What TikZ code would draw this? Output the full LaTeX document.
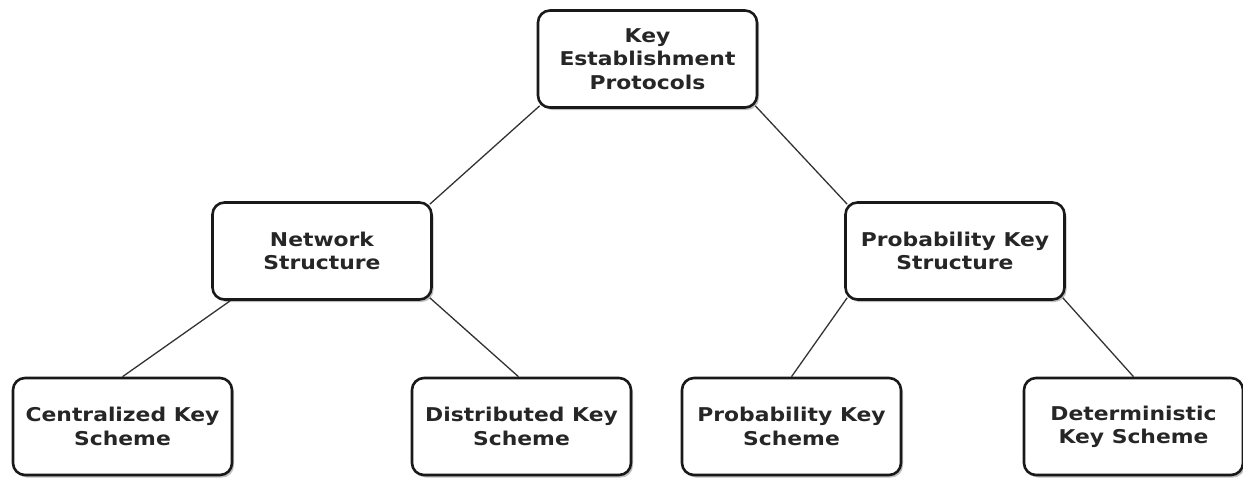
\documentclass[tikz,border=0pt]{standalone}
\usepackage{fontspec}
\setmainfont{DejaVu Sans}[FakeStretch=1.15]
\usetikzlibrary{shadows}
\definecolor{txt}{HTML}{262626}
\begin{document}
\begin{tikzpicture}[x=1pt,y=-1pt,
  box/.style={draw=black!90, line width=2.6pt, rounded corners=12pt, fill=white,
    minimum width=219pt, minimum height=97pt, inner sep=0pt, align=center,
    text=txt, font=\bfseries\fontsize{19}{23.3}\selectfont,
    drop shadow={shadow xshift=2pt, shadow yshift=-2.5pt, opacity=0.25, fill=black}},
  link/.style={line width=1.3pt, draw=black!80}]
\useasboundingbox (0,0) rectangle (1243,477);
\node[box] (top)  at (647.5,59)  {Key\\Establishment\\Protocols};
\node[box] (net)  at (322,251)   {Network\\Structure};
\node[box] (pks)  at (955,251)   {Probability Key\\Structure};
\node[box] (cen)  at (122.5,426.5) {Centralized Key\\Scheme};
\node[box] (dis)  at (521.5,426.5) {Distributed Key\\Scheme};
\node[box] (pksc) at (791.5,426.5) {Probability Key\\Scheme};
\node[box] (det)  at (1133.5,426.5) {Deterministic\\Key Scheme};
\draw[link] ([xshift=3pt,yshift=3pt]top.south west) -- ([xshift=-3pt,yshift=-3pt]net.north east);
\draw[link] ([xshift=-3pt,yshift=3pt]top.south east) -- ([xshift=3pt,yshift=-3pt]pks.north west);
\draw[link] ([xshift=19pt]net.south west) -- (cen.north);
\draw[link] ([xshift=-3pt,yshift=3pt]net.south east) -- ([xshift=-3pt]dis.north);
\draw[link] ([xshift=3pt,yshift=3pt]pks.south west) -- (pksc.north);
\draw[link] ([xshift=-3pt,yshift=3pt]pks.south east) -- (det.north);
\end{tikzpicture}
\end{document}
